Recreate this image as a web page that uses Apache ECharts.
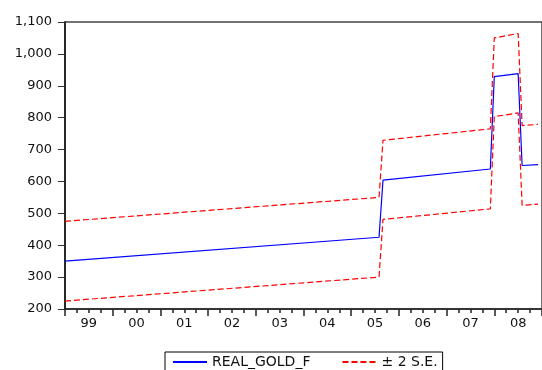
<!DOCTYPE html>
<html>
<head>
<meta charset="utf-8">
<script src="https://cdn.jsdelivr.net/npm/echarts@6/dist/echarts.min.js"></script>
<style>
html,body{margin:0;padding:0;background:#fff;}
#chart{width:542px;height:370px;}
</style>
</head>
<body>
<div id="chart"></div>
<script>
// Vertices of the forecast lines (monthly, straight segments between them)
const months   = ['1999-01','2005-08','2005-09','2007-12','2008-01','2008-07','2008-08','2008-12'];
const realGold = [350, 425, 604, 639, 929, 938, 650, 653];
const upperSE  = [475, 550, 729, 765, 1050, 1064, 775, 779];
const lowerSE  = [225, 300, 481, 514, 803, 815, 525, 529];
const yearLabels = ['99','00','01','02','03','04','05','06','07','08'];

const FONT = 'DejaVu Sans';
function monthIndex(s){ const p = s.split('-'); return (Number(p[0]) - 1999) * 12 + (Number(p[1]) - 1); }
function pairs(vals){ return months.map((m, i) => [monthIndex(m), vals[i]]); }

const chart = echarts.init(document.getElementById('chart'), null, {renderer:'canvas'});
chart.setOption({
  animation: false,
  backgroundColor: '#fff',
  grid: {left: 65, top: 22, width: 483, height: 287, show: true, borderColor: '#444', borderWidth: 1.5},
  xAxis: {
    type: 'value', min: 0, max: 120, interval: 12,
    axisLine: {show: true, onZero: false, lineStyle: {color: '#222', width: 1.5}},
    axisTick: {show: true, length: 7, lineStyle: {color: '#222', width: 1.5}},
    minorTick: {show: true, splitNumber: 4, length: 4, lineStyle: {color: '#222', width: 1.5}},
    splitLine: {show: false}, minorSplitLine: {show: false},
    axisLabel: {
      customValues: yearLabels.map((_, i) => i * 12 + 6),
      formatter: v => yearLabels[Math.round((v - 6) / 12)],
      margin: 8, fontSize: 13, fontFamily: FONT, color: '#111'
    }
  },
  yAxis: {
    type: 'value', min: 200, max: 1100, interval: 100,
    axisLine: {show: true, lineStyle: {color: '#111', width: 1.5}},
    axisTick: {show: true, length: 7, lineStyle: {color: '#333', width: 1}},
    splitLine: {show: false},
    axisLabel: {
      formatter: v => v.toLocaleString('en-US'),
      margin: 13, fontSize: 13, fontFamily: FONT, color: '#111'
    }
  },
  legend: {
    left: 165, top: 352, orient: 'horizontal',
    itemWidth: 34, itemHeight: 14, itemGap: 31,
    borderColor: '#000', borderWidth: 1, backgroundColor: '#fff',
    padding: [3, 5, 12, 7],
    itemStyle: {opacity: 0},
    textStyle: {fontSize: 14, fontFamily: FONT, color: '#111'},
    data: ['REAL_GOLD_F', '± 2 S.E.']
  },
  series: [
    {name: 'REAL_GOLD_F', type: 'line', data: pairs(realGold), symbol: 'none', showSymbol: false,
     lineStyle: {color: '#0000ff', width: 1.2}, itemStyle: {color: '#0000ff'}},
    {name: '± 2 S.E.', type: 'line', data: pairs(upperSE), symbol: 'none', showSymbol: false,
     lineStyle: {color: '#ff0000', width: 1.2, type: [6, 3]}, itemStyle: {color: '#ff0000'}},
    {name: '± 2 S.E.', type: 'line', data: pairs(lowerSE), symbol: 'none', showSymbol: false,
     lineStyle: {color: '#ff0000', width: 1.2, type: [6, 3]}, itemStyle: {color: '#ff0000'}}
  ]
});
</script>
</body>
</html>
